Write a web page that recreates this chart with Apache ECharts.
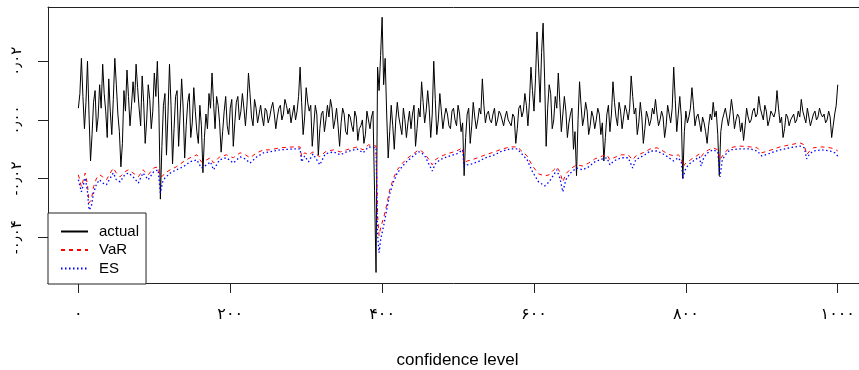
<!DOCTYPE html>
<html>
<head>
<meta charset="utf-8">
<script src="https://cdn.jsdelivr.net/npm/echarts@6/dist/echarts.min.js"></script>
<style>
  html, body { margin: 0; padding: 0; background: #fff; }
  #chart { width: 859px; height: 370px; }
</style>
</head>
<body>
<div id="chart"></div>
<script>
// actual returns, one value every `step` observations
const step = 2;
const actual = [
  0.004, 0.009, 0.021, 0.008, -0.003, 0.006, 0.020, 0.002, -0.014, -0.005, 0.006, 0.010, -0.004, 0.001, 0.012, 0.004, 0.019, 0.009, 0.003, -0.006,
  0.014, 0.003, -0.005, 0.007, 0.021, 0.012, 0.002, -0.004, -0.016, -0.008, 0.010, 0.003, 0.017, 0.008, -0.002, 0.005, 0.013, 0.006, 0.019, 0.011,
  0.004, -0.002, 0.015, 0.006, -0.008, 0.000, 0.012, 0.007, -0.003, 0.003, 0.016, 0.008, 0.020, 0.004, -0.027, -0.009, 0.005, 0.009, -0.012, 0.002,
  0.019, 0.005, -0.015, -0.003, 0.008, 0.010, -0.009, 0.002, 0.014, 0.004, -0.013, -0.002, 0.006, 0.009, -0.006, -0.001, 0.011, 0.003, -0.004, -0.008,
  0.005, -0.002, -0.018, -0.006, 0.002, -0.003, 0.009, 0.004, 0.016, 0.006, -0.003, 0.008, 0.005, -0.001, -0.011, -0.004, 0.003, 0.008, -0.002, -0.005,
  0.004, 0.007, -0.009, -0.001, 0.006, 0.008, 0.000, 0.003, 0.009, 0.004, -0.002, 0.005, 0.016, 0.009, 0.001, -0.002, 0.007, 0.004, -0.001, 0.002,
  0.005, 0.001, -0.002, 0.004, 0.003, -0.001, 0.001, 0.004, 0.006, 0.002, -0.003, 0.001, 0.004, 0.005, 0.000, 0.002, 0.007, 0.005, 0.002, 0.004,
  -0.001, 0.002, 0.005, 0.000, 0.003, 0.008, 0.018, 0.006, -0.005, 0.001, 0.011, 0.006, 0.003, 0.005, -0.009, -0.002, 0.005, 0.002, -0.012, -0.003,
  0.002, 0.003, -0.004, 0.000, 0.005, 0.001, 0.007, 0.004, -0.003, 0.000, 0.004, -0.002, -0.009, -0.001, 0.004, 0.002, -0.004, -0.005, 0.002, 0.001,
  -0.002, -0.004, 0.003, 0.001, -0.007, -0.003, -0.002, 0.000, -0.008, -0.005, 0.003, 0.000, -0.003, 0.001, 0.003, -0.024, -0.052, 0.018, 0.010, 0.022,
  0.035, 0.012, 0.021, 0.002, -0.013, -0.004, 0.005, -0.002, -0.010, 0.000, 0.006, 0.001, -0.002, -0.005, 0.004, 0.000, -0.006, -0.001, 0.003, -0.003,
  0.002, 0.005, -0.009, -0.003, 0.004, 0.001, 0.013, 0.006, -0.001, 0.003, 0.010, 0.004, -0.006, 0.002, 0.020, 0.007, -0.005, 0.000, 0.009, 0.003,
  -0.003, 0.001, 0.004, 0.002, -0.002, -0.003, 0.003, 0.004, 0.000, -0.002, 0.005, 0.002, -0.004, -0.001, -0.019, -0.006, 0.002, 0.004, -0.008, -0.002,
  0.006, 0.001, -0.003, 0.000, 0.004, 0.002, 0.014, 0.005, -0.001, 0.002, 0.003, 0.000, -0.001, 0.002, 0.004, -0.002, 0.000, 0.003, 0.002, 0.000,
  -0.002, 0.001, 0.003, 0.000, -0.001, -0.002, 0.002, 0.001, -0.008, -0.003, 0.004, 0.005, 0.001, 0.003, 0.009, 0.005, -0.002, 0.006, 0.018, 0.010,
  0.003, 0.014, 0.030, 0.018, 0.006, 0.023, 0.033, 0.014, -0.009, 0.004, 0.012, 0.009, -0.003, 0.000, 0.008, 0.004, 0.016, 0.006, -0.004, 0.002,
  0.008, 0.003, -0.006, -0.001, 0.002, 0.004, -0.010, -0.004, -0.019, 0.000, 0.013, 0.005, -0.002, 0.001, 0.006, 0.003, -0.005, -0.002, 0.003, 0.001,
  -0.003, 0.000, 0.004, 0.002, -0.005, -0.001, -0.014, -0.006, 0.002, 0.005, -0.004, 0.002, 0.013, 0.006, 0.001, -0.002, 0.006, 0.003, -0.003, 0.001,
  0.005, 0.003, 0.000, 0.004, 0.015, 0.008, 0.002, 0.004, -0.005, -0.001, 0.006, 0.001, -0.008, -0.003, 0.003, 0.001, -0.002, 0.000, 0.004, 0.002,
  0.007, 0.002, -0.002, 0.000, 0.003, 0.001, -0.006, -0.002, 0.005, 0.002, -0.001, 0.004, 0.018, 0.007, -0.004, 0.002, 0.008, 0.001, -0.020, -0.004,
  0.003, -0.001, 0.001, 0.004, 0.011, 0.005, -0.002, 0.001, 0.002, -0.001, -0.004, 0.001, -0.001, -0.004, -0.008, -0.002, 0.002, 0.000, 0.006, 0.001,
  0.003, -0.005, -0.019, -0.004, 0.000, 0.002, 0.004, 0.001, -0.002, 0.002, 0.007, 0.003, -0.003, 0.000, 0.002, 0.001, -0.004, -0.001, -0.007, -0.002,
  0.004, 0.001, -0.001, 0.000, 0.003, 0.004, 0.001, 0.002, 0.008, 0.004, 0.002, 0.000, 0.005, 0.003, -0.002, 0.000, 0.003, 0.002, 0.001, 0.003,
  0.010, 0.004, -0.001, 0.001, -0.006, -0.003, 0.002, 0.001, -0.002, 0.000, 0.001, 0.002, -0.001, 0.000, 0.003, 0.001, 0.007, 0.003, 0.001, -0.001,
  0.004, 0.001, -0.002, 0.000, 0.002, 0.003, 0.000, 0.001, 0.004, 0.002, 0.001, 0.002, -0.001, 0.000, 0.003, 0.001, -0.006, -0.002, 0.002, 0.005, 0.012
];

// VaR and ES read at these observation numbers
const riskIdx = [
  0, 4, 9, 12, 14, 17, 20, 24, 28, 32, 37, 42, 46, 50, 55, 61, 66, 72, 79, 85,
  92, 99, 105, 108, 111, 114, 121, 129, 138, 147, 156, 162, 169, 174, 178, 186, 195, 204, 213, 220,
  226, 235, 244, 252, 266, 283, 292, 294, 298, 303, 309, 318, 325, 336, 345, 353, 367, 375, 382, 392,
  394, 396, 398, 402, 406, 410, 415, 420, 426, 432, 441, 448, 452, 457, 462, 466, 470, 476, 485, 498,
  506, 508, 512, 518, 526, 536, 548, 558, 569, 578, 585, 591, 598, 606, 614, 620, 626, 630, 634, 638,
  642, 648, 656, 664, 672, 680, 690, 696, 700, 705, 715, 724, 730, 734, 746, 753, 762, 770, 776, 784,
  790, 794, 796, 800, 806, 812, 818, 820, 824, 830, 836, 842, 845, 848, 852, 858, 870, 885, 894, 900,
  908, 916, 924, 937, 950, 956, 959, 963, 968, 979, 990, 996, 1000
];
const varValues = [
  -0.0187, -0.0228, -0.0181, -0.0221, -0.0283, -0.0273, -0.0228, -0.0198, -0.0187, -0.0194,
  -0.0204, -0.0181, -0.0164, -0.0181, -0.0194, -0.0177, -0.0170, -0.0181, -0.0194, -0.0170,
  -0.0187, -0.0164, -0.0160, -0.0194, -0.0191, -0.0181, -0.0170, -0.0160, -0.0143, -0.0129,
  -0.0119, -0.0143, -0.0136, -0.0129, -0.0147, -0.0126, -0.0119, -0.0129, -0.0112, -0.0119,
  -0.0129, -0.0112, -0.0102, -0.0102, -0.0095, -0.0092, -0.0092, -0.0126, -0.0112, -0.0119,
  -0.0109, -0.0126, -0.0109, -0.0102, -0.0109, -0.0102, -0.0092, -0.0102, -0.0085, -0.0089,
  -0.0324, -0.0395, -0.0368, -0.0334, -0.0290, -0.0239, -0.0198, -0.0170, -0.0150, -0.0133,
  -0.0116, -0.0102, -0.0106, -0.0119, -0.0136, -0.0153, -0.0136, -0.0126, -0.0116, -0.0106,
  -0.0095, -0.0147, -0.0140, -0.0136, -0.0129, -0.0119, -0.0109, -0.0099, -0.0092, -0.0092,
  -0.0109, -0.0123, -0.0157, -0.0184, -0.0191, -0.0187, -0.0170, -0.0160, -0.0177, -0.0211,
  -0.0184, -0.0167, -0.0153, -0.0157, -0.0147, -0.0133, -0.0123, -0.0119, -0.0136, -0.0129,
  -0.0119, -0.0119, -0.0136, -0.0123, -0.0109, -0.0099, -0.0095, -0.0106, -0.0116, -0.0123,
  -0.0119, -0.0129, -0.0160, -0.0147, -0.0136, -0.0126, -0.0116, -0.0126, -0.0112, -0.0102,
  -0.0095, -0.0102, -0.0136, -0.0123, -0.0109, -0.0095, -0.0089, -0.0092, -0.0095, -0.0112,
  -0.0106, -0.0099, -0.0092, -0.0085, -0.0078, -0.0085, -0.0119, -0.0106, -0.0095, -0.0092,
  -0.0095, -0.0099, -0.0106
];
const esValues = [
  -0.0204, -0.0245, -0.0198, -0.0245, -0.0307, -0.0296, -0.0249, -0.0218, -0.0204, -0.0215,
  -0.0221, -0.0198, -0.0181, -0.0204, -0.0211, -0.0187, -0.0181, -0.0194, -0.0215, -0.0181,
  -0.0204, -0.0177, -0.0170, -0.0249, -0.0211, -0.0198, -0.0181, -0.0170, -0.0160, -0.0143,
  -0.0136, -0.0164, -0.0153, -0.0143, -0.0170, -0.0136, -0.0129, -0.0147, -0.0126, -0.0133,
  -0.0147, -0.0126, -0.0112, -0.0109, -0.0102, -0.0099, -0.0099, -0.0143, -0.0123, -0.0143,
  -0.0116, -0.0153, -0.0116, -0.0109, -0.0119, -0.0109, -0.0099, -0.0112, -0.0092, -0.0095,
  -0.0392, -0.0453, -0.0409, -0.0361, -0.0307, -0.0252, -0.0211, -0.0181, -0.0160, -0.0143,
  -0.0123, -0.0109, -0.0112, -0.0126, -0.0153, -0.0174, -0.0150, -0.0136, -0.0126, -0.0116,
  -0.0102, -0.0160, -0.0153, -0.0150, -0.0143, -0.0129, -0.0119, -0.0106, -0.0099, -0.0099,
  -0.0119, -0.0136, -0.0177, -0.0211, -0.0225, -0.0211, -0.0187, -0.0170, -0.0198, -0.0245,
  -0.0204, -0.0181, -0.0164, -0.0170, -0.0160, -0.0143, -0.0133, -0.0129, -0.0153, -0.0140,
  -0.0129, -0.0129, -0.0164, -0.0136, -0.0119, -0.0106, -0.0106, -0.0116, -0.0126, -0.0140,
  -0.0129, -0.0143, -0.0198, -0.0164, -0.0147, -0.0136, -0.0126, -0.0157, -0.0126, -0.0109,
  -0.0102, -0.0109, -0.0194, -0.0136, -0.0119, -0.0102, -0.0099, -0.0099, -0.0106, -0.0123,
  -0.0116, -0.0109, -0.0102, -0.0095, -0.0089, -0.0095, -0.0133, -0.0116, -0.0106, -0.0102,
  -0.0106, -0.0112, -0.0123
];

const xTicks = [0, 200, 400, 600, 800, 1000];
const xTickLabels = ['۰', '۲۰۰', '۴۰۰', '۶۰۰', '۸۰۰', '۱۰۰۰'];
const yTicks = [-0.04, -0.02, 0, 0.02];
const yTickLabels = ['-۰٫۰۴', '-۰٫۰۲', '۰٫۰۰', '۰٫۰۲'];

const font = '"Liberation Sans", Arial, "DejaVu Sans", sans-serif';
const frame = { show: true, onZero: false, lineStyle: { color: '#222', width: 1 } };

const pickLabel = (ticks, labels) => v => {
  const k = ticks.findIndex(t => Math.abs(t - v) < 1e-9);
  return k < 0 ? '' : labels[k];
};

const chart = echarts.init(document.getElementById('chart'));

chart.setOption({
  animation: false,
  backgroundColor: '#fff',
  grid: { left: 48, top: 7, right: 0, bottom: 87, outerBoundsMode: 'none', containLabel: false },
  legend: {
    orient: 'vertical',
    left: 48,
    top: 213,
    padding: [11, 7, 8, 12],
    itemGap: 3.5,
    itemWidth: 27,
    itemHeight: 14,
    borderColor: '#222',
    borderWidth: 1,
    borderRadius: 0,
    backgroundColor: '#fff',
    itemStyle: { opacity: 0 },
    textStyle: { fontFamily: font, fontSize: 15, color: '#000', padding: [0, 0, 0, 6] },
    data: ['actual', 'VaR', 'ES']
  },
  xAxis: [
    {
      type: 'value',
      min: -40,
      max: 1028,
      axisLine: frame,
      axisTick: { show: true, length: 10, customValues: xTicks, lineStyle: { color: '#222' } },
      axisLabel: {
        customValues: xTicks,
        formatter: pickLabel(xTicks, xTickLabels),
        margin: 24,
        fontSize: 16,
        color: '#000',
        fontFamily: font
      },
      splitLine: { show: false },
      name: 'confidence level',
      nameLocation: 'middle',
      nameGap: 69,
      nameTextStyle: { fontFamily: font, fontSize: 17, color: '#000', padding: [0, 0, 0, 8] }
    },
    {
      // top edge of the plot frame
      type: 'value',
      position: 'top',
      min: -40,
      max: 1028,
      axisLine: frame,
      axisTick: { show: false },
      axisLabel: { show: false },
      splitLine: { show: false }
    }
  ],
  yAxis: {
    type: 'value',
    min: -0.0556,
    max: 0.0385,
    axisLine: frame,
    axisTick: { show: true, length: 10, customValues: yTicks, lineStyle: { color: '#222' } },
    axisLabel: {
      customValues: yTicks,
      formatter: pickLabel(yTicks, yTickLabels),
      rotate: 90,
      margin: 24,
      fontSize: 15,
      color: '#000',
      fontFamily: font
    },
    splitLine: { show: false }
  },
  series: [
    {
      name: 'actual',
      type: 'line',
      symbol: 'none',
      lineStyle: { color: '#000', width: 1 },
      itemStyle: { color: '#000' },
      data: actual.map((v, i) => [i * step, v])
    },
    {
      name: 'VaR',
      type: 'line',
      symbol: 'none',
      lineStyle: { color: '#ff0000', width: 1, type: [4, 4] },
      itemStyle: { color: '#ff0000' },
      data: riskIdx.map((x, i) => [x, varValues[i]])
    },
    {
      name: 'ES',
      type: 'line',
      symbol: 'none',
      lineStyle: { color: '#0000ff', width: 1.3, type: [1.5, 2.5] },
      itemStyle: { color: '#0000ff' },
      data: riskIdx.map((x, i) => [x, esValues[i]])
    }
  ]
});
</script>
</body>
</html>
